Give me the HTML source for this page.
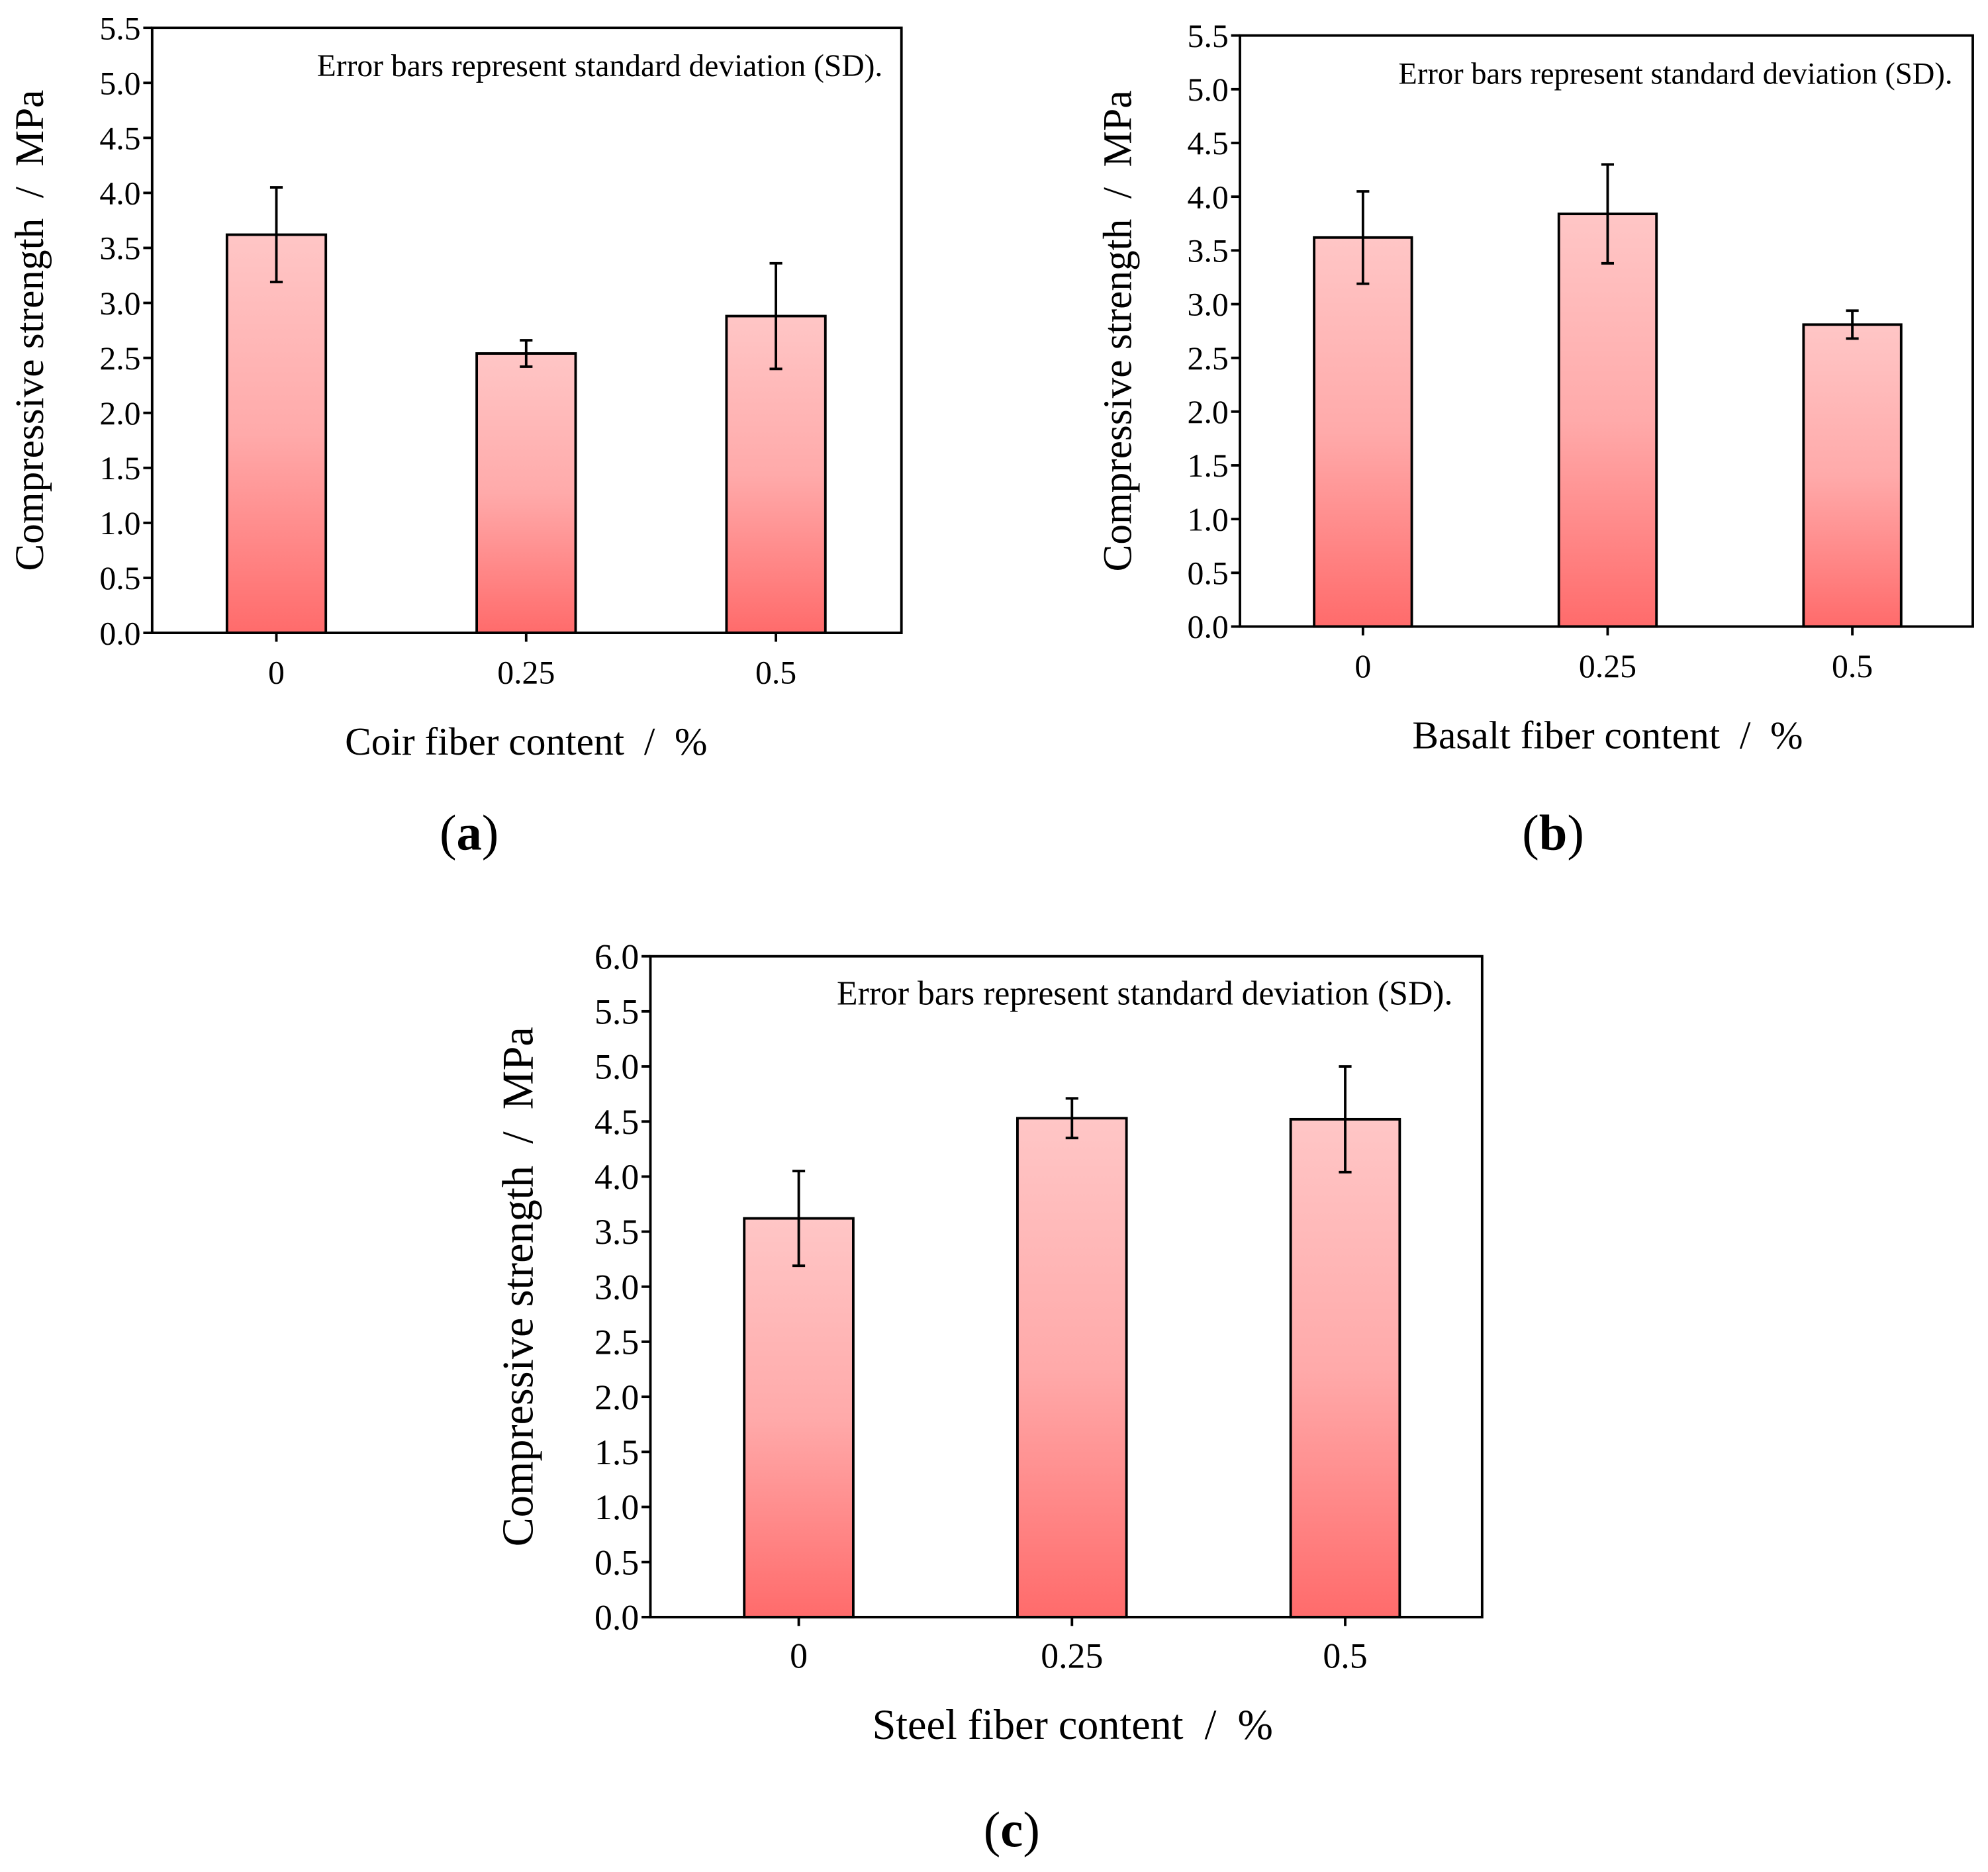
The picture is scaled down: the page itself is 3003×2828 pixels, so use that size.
<!DOCTYPE html>
<html><head><meta charset="utf-8"><style>
html,body{margin:0;padding:0;background:#fff}
svg{display:block}
text{font-family:"Liberation Serif",serif;fill:#000;white-space:pre}
</style></head><body>
<svg id="fig" width="3003" height="2828" viewBox="0 0 1568 1476" preserveAspectRatio="none" xmlns="http://www.w3.org/2000/svg">
<defs><linearGradient id="g" x1="0" y1="0" x2="0" y2="1">
<stop offset="0" stop-color="#ffc6c6"/><stop offset="0.5" stop-color="#ffaaaa"/><stop offset="1" stop-color="#ff6b6b"/></linearGradient></defs>
</svg>
<script>
const categories = ["0", "0.25", "0.5"];
const coirValues = [3.62, 2.54, 2.88];
const coirErrors = [0.43, 0.12, 0.48];
const basaltValues = [3.62, 3.84, 2.81];
const basaltErrors = [0.43, 0.46, 0.13];
const steelValues = [3.62, 4.53, 4.52];
const steelErrors = [0.43, 0.18, 0.48];
const yTicks55 = ["0.0","0.5","1.0","1.5","2.0","2.5","3.0","3.5","4.0","4.5","5.0","5.5"];
const yTicks60 = ["0.0","0.5","1.0","1.5","2.0","2.5","3.0","3.5","4.0","4.5","5.0","5.5","6.0"];

const NS="http://www.w3.org/2000/svg";
const svg=document.getElementById('fig');
function mk(tag,attrs,parent){const e=document.createElementNS(NS,tag);for(const k in attrs)e.setAttribute(k,attrs[k]);(parent||svg).appendChild(e);return e;}

function panel(p){
  const g=mk('g',{});
  
  
  const s=p.fs;
  const ymax=parseFloat(p.ticks[p.ticks.length-1]);
  const y=v=>p.b-(v/ymax)*(p.b-p.t);
  const x=i=>p.l+p.x0+p.step*i;
  p.values.forEach((v,i)=>{
    const r=mk('rect',{x:x(i)-p.bw/2,y:y(v),width:p.bw,height:p.b-y(v),fill:'url(#g)',stroke:'#000','stroke-width':2},g);
    
    
    const e=p.errors[i];
    const eb=mk('path',{d:`M${x(i)},${y(v+e)}V${y(v-e)}M${x(i)-5},${y(v+e)}h10M${x(i)-5},${y(v-e)}h10`,stroke:'#000','stroke-width':2,fill:'none'},g);
    
    
  });
  const fr=mk('rect',{x:p.l,y:p.t,width:p.r-p.l,height:p.b-p.t,fill:'none',stroke:'#000','stroke-width':2},g);
  
  
  p.ticks.forEach(t=>{
    const v=parseFloat(t);
    mk('line',{x1:p.l-7,x2:p.l,y1:y(v),y2:y(v),stroke:'#000','stroke-width':2},g);
    const tx=mk('text',{x:p.l-9,y:y(v)+9*s,'text-anchor':'end','font-size':26*s},g);
    tx.textContent=t;
    
    
  });
  categories.forEach((c,i)=>{
    mk('line',{x1:x(i),x2:x(i),y1:p.b,y2:p.b+7,stroke:'#000','stroke-width':2},g);
    const tx=mk('text',{x:x(i),y:p.b+40,'text-anchor':'middle','font-size':26*s},g);
    tx.textContent=c;
    
    
  });
  const an=mk('text',{x:p.ax,y:p.t+38,'text-anchor':'start','font-size':p.afs},g);
  an.textContent='Error bars represent standard deviation (SD).';
  
  
  const yt=mk('text',{transform:`translate(${p.l-86*s},${(p.t+p.b)/2}) rotate(-90)`,'text-anchor':'middle','font-size':32*s},g);
  yt.textContent='Compressive strength  /  MPa';
  
  
  const xt=mk('text',{x:p.xtx,y:p.b+96,'text-anchor':'middle','font-size':31*s},g);
  xt.textContent=p.xtitle;
  
  
  const lb=mk('text',{x:p.lx,y:p.ly,'text-anchor':'middle','font-size':40},g);
  lb.innerHTML='(<tspan font-weight="bold">'+p.label+'</tspan>)';
  
  
}
panel({name:'panel-a-coir',fs:1,afs:24.8,l:120,r:711,t:22,b:499,bw:78,x0:98,step:197,ax:250,ticks:yTicks55,values:coirValues,errors:coirErrors,xtitle:'Coir fiber content  /  %',xtx:415,label:'a',lx:370,ly:670});
panel({name:'panel-b-basalt',fs:1,afs:24.3,l:978,r:1556,t:28,b:494,bw:77,x0:97,step:193,ax:1103,ticks:yTicks55,values:basaltValues,errors:basaltErrors,xtitle:'Basalt fiber content  /  %',xtx:1268,label:'b',lx:1225,ly:670});
panel({name:'panel-c-steel',fs:1.08,afs:27,l:513,r:1169,t:754,b:1275,bw:86,x0:117,step:215.5,ax:660,ticks:yTicks60,values:steelValues,errors:steelErrors,xtitle:'Steel fiber content  /  %',xtx:846,label:'c',lx:798,ly:1456});
</script>
</body></html>
